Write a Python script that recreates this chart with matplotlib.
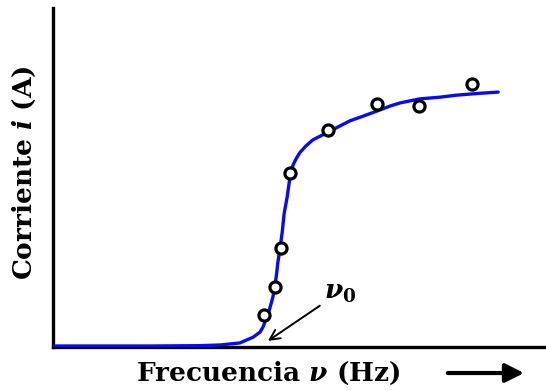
import matplotlib
matplotlib.use('Agg')
from matplotlib import pyplot as plt

plt.rcParams['font.family'] = ['DejaVu Serif']
plt.rcParams['mathtext.fontset'] = 'custom'
plt.rcParams['mathtext.rm'] = 'DejaVu Serif:bold'
plt.rcParams['mathtext.it'] = 'DejaVu Serif:italic:bold'

# measured photocurrent vs frequency (arbitrary units)
freq_meas = [4.28, 4.50, 4.62, 4.81, 5.58, 6.57, 7.42, 8.50]
curr_meas = [0.94, 1.77, 2.92, 5.13, 6.40, 7.17, 7.11, 7.76]

# fitted response curve
freq_fit = [0.00, 1.97, 2.98, 3.39, 3.79, 4.06, 4.20, 4.26, 4.34, 4.40,
            4.46, 4.50, 4.54, 4.56, 4.60, 4.65, 4.69, 4.75, 4.81, 4.87,
            4.93, 5.01, 5.13, 5.27, 5.42, 5.58, 5.78, 6.02, 6.29, 6.57,
            6.84, 7.04, 7.44, 7.85, 8.19, 8.62, 9.03]
curr_fit = [0.03, 0.03, 0.04, 0.06, 0.12, 0.29, 0.44, 0.59, 0.88, 1.15,
            1.47, 1.77, 2.21, 2.48, 2.86, 3.39, 3.95, 4.42, 5.05, 5.37,
            5.55, 5.74, 5.93, 6.11, 6.22, 6.34, 6.49, 6.67, 6.81, 6.96,
            7.11, 7.20, 7.32, 7.37, 7.43, 7.48, 7.52]

fig = plt.figure(figsize=(5.46, 3.91), dpi=100)
ax = fig.add_axes([0.097, 0.1125, 0.903, 0.867])

ax.plot(freq_fit, curr_fit, color='#0a0af0', lw=2.4, zorder=3,
        solid_joinstyle='round', solid_capstyle='round')
ax.plot(freq_meas, curr_meas, 'o', ms=8, mfc='white', mec='black',
        mew=2.3, zorder=4)

ax.annotate(r'$\nu_{\mathit{0}}$', xy=(4.36, 0.18), xytext=(5.82, 1.62),
            fontsize=19, ha='center', va='center',
            arrowprops=dict(arrowstyle='->', color='black', lw=1.4,
                            shrinkA=1, shrinkB=0, mutation_scale=18))

ax.set_xlim(0, 10)
ax.set_ylim(0, 10)
ax.set_xticks([])
ax.set_yticks([])
for side in ['top', 'right']:
    ax.spines[side].set_visible(False)
for side in ['left', 'bottom']:
    ax.spines[side].set_linewidth(2.4)
    ax.spines[side].set_color('black')

ax.set_xlabel(r'Frecuencia $\nu$ (Hz)', fontsize=19, fontweight='bold',
              va='center')
ax.xaxis.set_label_coords(0.436, -0.077)
ax.set_ylabel(r'Corriente $i$ (A)', fontsize=19, fontweight='bold',
              va='center')
ax.yaxis.set_label_coords(-0.057, 0.513)

# direction arrow beside the frequency label
fig.add_artist(matplotlib.patches.FancyArrowPatch(
    (0.815, 0.046), (0.965, 0.046), transform=fig.transFigure,
    arrowstyle='-|>', mutation_scale=28, lw=3, color='black'))

fig.savefig('out.png', dpi=100)
